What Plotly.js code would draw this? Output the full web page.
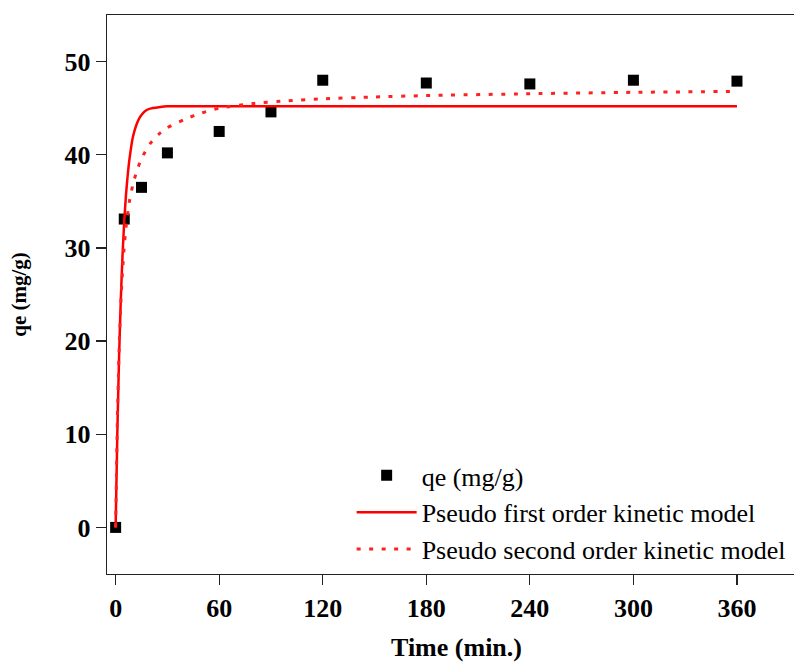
<!DOCTYPE html>
<html>
<head>
<meta charset="utf-8">
<script src="https://cdn.plot.ly/plotly-3.0.1.min.js"></script>
<style>
html, body { margin: 0; padding: 0; overflow: hidden; background: #fff; width: 794px; height: 662px; }
#chart { width: 826px; height: 662px; }
</style>
</head>
<body>
<div id="chart"></div>
<script>
// Experimental data
var timeMin = [0, 5, 15, 30, 60, 90, 120, 180, 240, 300, 360];
var qeExp = [0, 33.1, 36.5, 40.2, 42.5, 44.6, 48.0, 47.7, 47.6, 48.0, 47.9];

// Pseudo first order curve
var pfoTime = [0, 1, 2, 3, 4, 5, 6, 7, 8, 10, 12, 14, 16, 18, 20, 25, 30, 40, 60, 120, 180, 240, 300, 360];
var pfoQ = [0, 10.3, 18.3, 24.5, 29.2, 32.9, 35.7, 37.8, 39.5, 41.9, 43.2, 44.0, 44.5, 44.8, 44.95, 45.1, 45.2, 45.2, 45.2, 45.2, 45.2, 45.2, 45.2, 45.2];

// Pseudo second order curve
var psoTime = [0, 1, 2, 3, 4, 5, 6, 8, 10, 12, 15, 20, 25, 30, 40, 50, 60, 80, 100, 120, 150, 180, 240, 300, 360];
var psoQ = [0, 11.5, 19.0, 24.0, 27.5, 30.2, 32.2, 35.0, 36.8, 38.1, 39.6, 41.2, 42.2, 42.9, 43.8, 44.5, 45.0, 45.5, 45.8, 46.0, 46.2, 46.35, 46.55, 46.7, 46.8];

var xTicks = [0, 60, 120, 180, 240, 300, 360];
var yTicks = [0, 10, 20, 30, 40, 50];

var serif = '"Liberation Serif", "Times New Roman", serif';

var traces = [
  {
    x: timeMin, y: qeExp, type: 'scatter', mode: 'markers', name: 'qe (mg/g)',
    marker: { symbol: 'square', size: 11, color: '#000' }
  },
  {
    x: pfoTime, y: pfoQ, type: 'scatter', mode: 'lines', name: 'Pseudo first order kinetic model',
    line: { color: '#ff0000', width: 2.5, shape: 'spline', smoothing: 0.6 }
  },
  {
    x: psoTime, y: psoQ, type: 'scatter', mode: 'lines', name: 'Pseudo second order kinetic model',
    line: { color: '#ff2020', width: 3, dash: '4px,8.5px', shape: 'spline', smoothing: 0.6 }
  }
];

var layout = {
  width: 826, height: 662,
  margin: { l: 107, r: 20, t: 15, b: 88 },
  paper_bgcolor: '#fff', plot_bgcolor: '#fff',
  showlegend: true,
  legend: {
    x: 0.35, y: 0.2183, xanchor: 'left', yanchor: 'top',
    bgcolor: 'rgba(0,0,0,0)', borderwidth: 0,
    font: { family: serif, size: 26, color: '#000' },
    itemwidth: 60, tracegroupgap: 0
  },
  xaxis: {
    range: [-5, 400], tickvals: xTicks, ticktext: xTicks.map(String),
    showgrid: false, zeroline: false,
    showline: true, linecolor: '#222', linewidth: 1.3, mirror: true,
    ticks: 'outside', ticklen: 10, tickwidth: 1.3, tickcolor: '#222',
    tickfont: { family: serif, size: 26, color: '#000', weight: 'bold' },
    title: { text: '<b>Time (min.)</b>', font: { family: serif, size: 26, color: '#000' }, standoff: 22 }
  },
  yaxis: {
    range: [-5, 55], tickvals: yTicks, ticktext: yTicks.map(String),
    showgrid: false, zeroline: false,
    showline: true, linecolor: '#222', linewidth: 1.3, mirror: true,
    ticks: 'outside', ticklen: 10, tickwidth: 1.3, tickcolor: '#222',
    tickfont: { family: serif, size: 26, color: '#000', weight: 'bold' },
    title: { text: '<b>qe (mg/g)</b>', font: { family: serif, size: 21, color: '#000' }, standoff: 32 }
  }
};

Plotly.newPlot('chart', traces, layout, { displayModeBar: false, staticPlot: true });
</script>
</body>
</html>
